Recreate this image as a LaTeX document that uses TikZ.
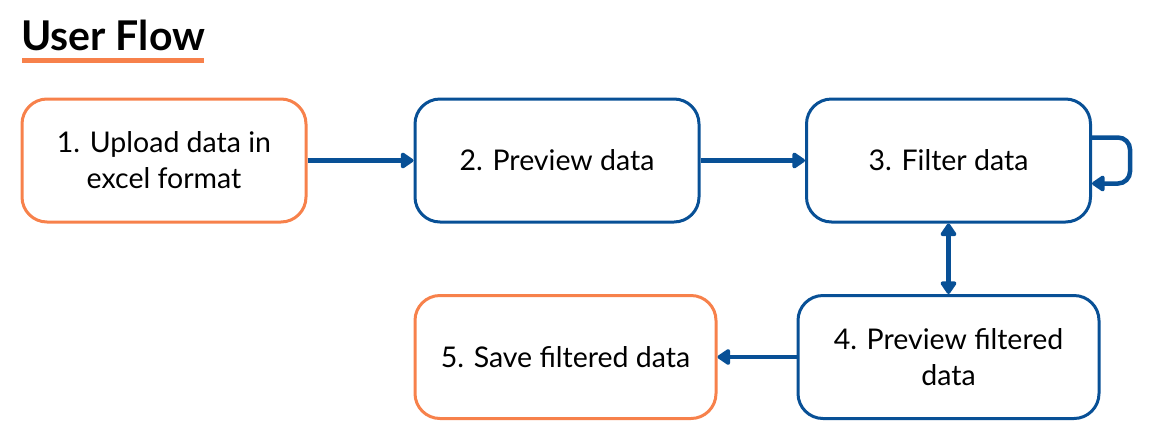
\documentclass[tikz,border=0pt]{standalone}
\usepackage{fontspec}
\setmainfont{Lato}
\usetikzlibrary{arrows.meta}

\definecolor{flowOrange}{RGB}{247,129,75}
\definecolor{flowBlue}{RGB}{8,80,150}

\tikzset{
   flowbox/.style = {draw, line width=3pt, rounded corners=25pt, minimum height=123pt,
      align=center, font=\fontsize{28.5}{36}\selectfont, text=black},
   orangebox/.style = {flowbox, draw=flowOrange},
   bluebox/.style = {flowbox, draw=flowBlue},
   flowarrow/.style = {draw=flowBlue, line width=4.5pt,
      -{Triangle[length=14pt,width=18pt,round]}},
}

\begin{document}
\begin{tikzpicture}[x=1pt, y=-1pt]
   \useasboundingbox (0,0) rectangle (1156,440);
   % title
   \node (title) [anchor=west, inner sep=0pt, font=\fontsize{41}{44}\bfseries\selectfont] at (21,35) {User Flow};
   \draw[flowOrange, line width=5pt] (22,60) -- (204,60);
   % boxes
   \node (upload) [orangebox, minimum width=284pt] at (164,160.5) {1. Upload data in\\excel format};
   \node (preview) [bluebox, minimum width=284pt] at (557,160.5) {2. Preview data};
   \node (filter) [bluebox, minimum width=284pt] at (948.5,160.5) {3. Filter data};
   \node (previewfilt) [bluebox, minimum width=301pt] at (948.5,357) {4. Preview filtered\\data};
   \node (save) [orangebox, minimum width=301pt] at (565.5,357) {5. Save filtered data};
   % arrows
   \draw[flowarrow] (upload) -- (preview);
   \draw[flowarrow] (preview) -- (filter);
   \draw[flowarrow, rounded corners=12pt] ([yshift=23pt]filter.east) -- ++(38,0) -- ++(0,46) -- ([yshift=-23pt]filter.east);
   \draw[flowarrow, {Triangle[length=14pt,width=18pt,round]}-{Triangle[length=14pt,width=18pt,round]}] (filter) -- (previewfilt);
   \draw[flowarrow] (previewfilt) -- (save);
\end{tikzpicture}
\end{document}
